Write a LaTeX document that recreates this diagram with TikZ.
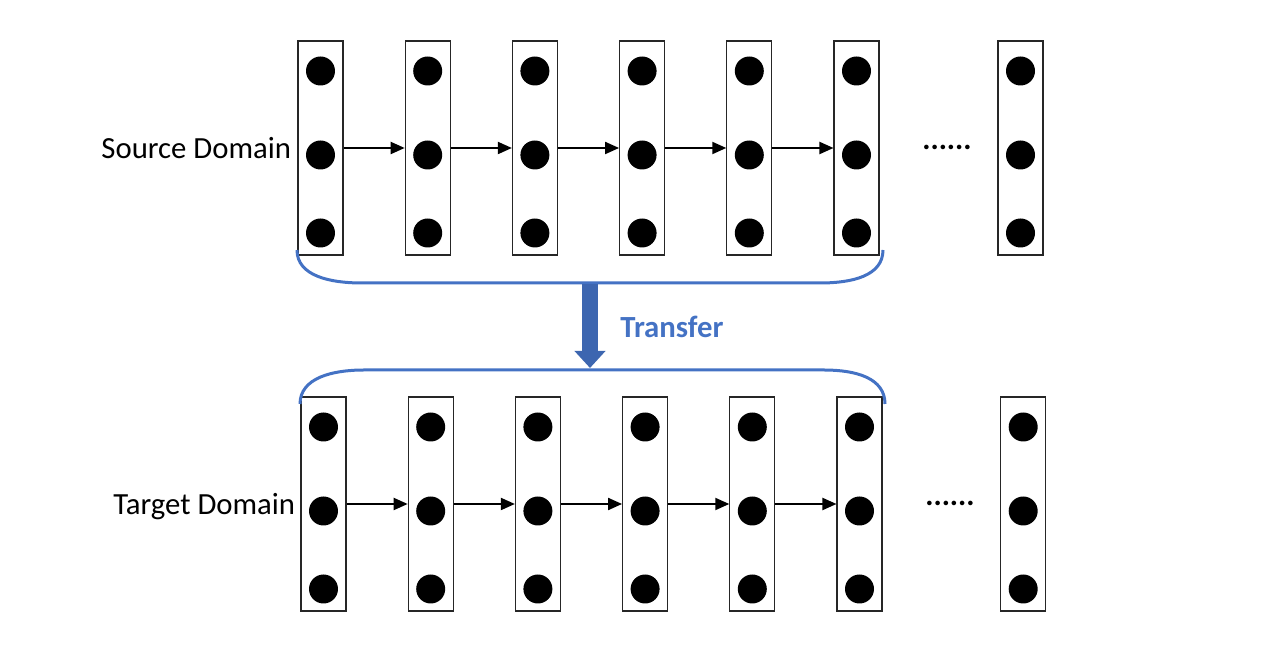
\documentclass[tikz,border=0pt]{standalone}
\usepackage{fontspec}
\setmainfont{Carlito}
\usetikzlibrary{arrows.meta,calc,positioning}
\definecolor{braceblue}{HTML}{4472C4}
\definecolor{arrowblue}{HTML}{3D66B0}
\tikzset{
    col/.style={draw=black!85,line width=0.6pt,minimum width=0.9cm,minimum height=4.28cm,inner sep=0},
    link/.style={line width=0.04cm,-{Triangle[length=0.28cm,width=0.24cm]}},
    lab/.style={font=\fontsize{17.5}{20}\selectfont,inner sep=0},
    brace/.style={braceblue,line width=0.06cm}
}
\begin{document}
\begin{tikzpicture}[x=0.02cm,y=-0.02cm]
            \useasboundingbox (0,0) rectangle (1276,668);
            \foreach \i in {1,...,6} {
                \node[col] (s\i) at ({320.5+107.2*(\i-1)},148) {};
                \node[col] (t\i) at ({323.5+107.2*(\i-1)},504) {};
            }
            \node[col] (s7) at (1020.5,148) {};
            \node[col] (t7) at (1023.2,504) {};
            \foreach \i in {1,...,7}
                \foreach \dy in {-77,7,85} {
                    \fill ($(s\i)+(0,\dy)$) circle (0.29cm);
                    \fill ($(t\i)+(0,\dy)$) circle (0.29cm);
                }
            \foreach \i [count=\j from 2] in {1,...,5} {
                \draw[link] (s\i) -- (s\j);
                \draw[link] (t\i) -- (t\j);
            }
            \node[lab,left=0.12cm of s1] (src) {Source Domain};
            \node[lab,left=0.1cm of t1,yshift=-0.06cm] (tgt) {Target Domain};
            \node[lab,font=\fontsize{17.5}{20}\selectfont\bfseries,anchor=base] (sdots) at (947,150) {......};
            \node[lab,font=\fontsize{17.5}{20}\selectfont\bfseries,anchor=base] (tdots) at (950,506) {......};
            \draw[brace] (297,250) .. controls (297,276) and (330,283) .. (362,283) -- (820,283) .. controls (852,283) and (883,276) .. (883,250);
            \draw[brace] (300,404) .. controls (300,378) and (332,370) .. (364,370) -- (824,370) .. controls (856,370) and (885,378) .. (885,404);
            \coordinate (tr1) at (590,284);
            \coordinate (tr2) at (590,368);
            \draw[arrowblue,line width=0.31cm,-{Triangle[length=0.34cm,width=0.6cm]}] (tr1) -- (tr2);
            \node[lab,font=\fontsize{17.5}{20}\selectfont\bfseries,text=braceblue,anchor=west] (trans) at (620,327) {Transfer};
        \end{tikzpicture}
\end{document}
